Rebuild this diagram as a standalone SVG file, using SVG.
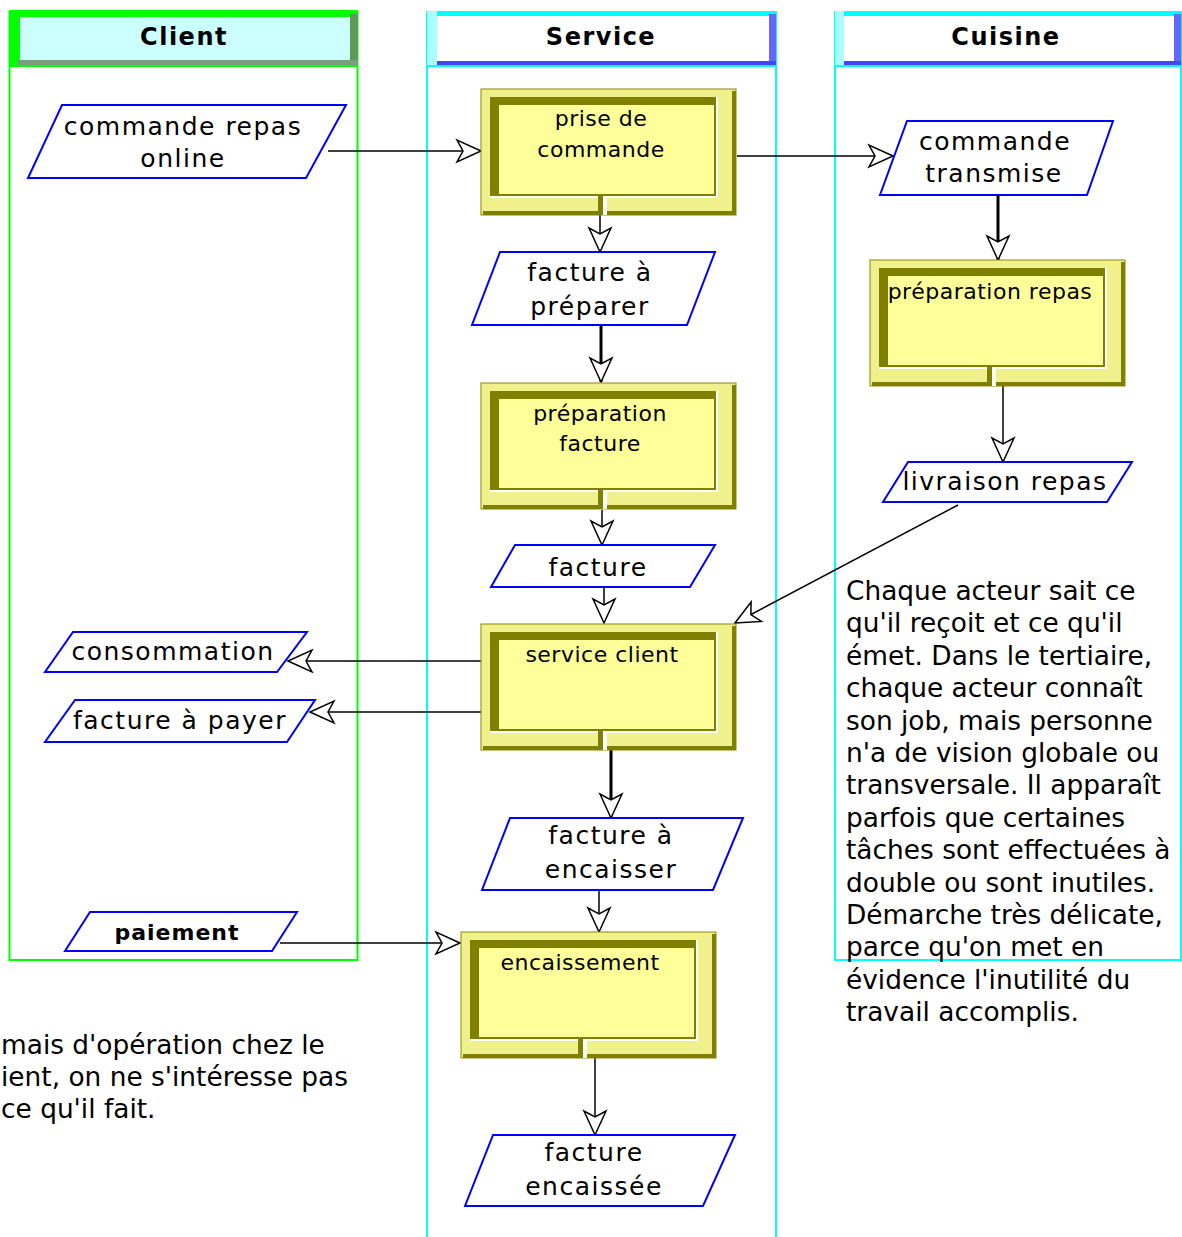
<svg xmlns="http://www.w3.org/2000/svg" width="1182" height="1237" viewBox="0 0 1182 1237">
<style>
.hdr{font-family:"DejaVu Sans",Verdana,sans-serif;font-weight:bold;font-size:24px;letter-spacing:1.5px;text-anchor:middle;fill:#000}
.pl{font-family:"DejaVu Sans",Verdana,sans-serif;font-size:25px;letter-spacing:1.5px;text-anchor:middle;fill:#000}
.pb{font-family:"DejaVu Sans",Verdana,sans-serif;font-size:22px;letter-spacing:0.5px;text-anchor:middle;fill:#000}
.para{fill:#fff;stroke:#0000ff;stroke-width:2}
.note{font-family:"DejaVu Sans",Verdana,sans-serif;font-size:26.4px;fill:#000}
.c{fill:none;stroke:#000;stroke-width:1.5;marker-end:url(#ah)}
.ct{fill:none;stroke:#000;stroke-width:3;marker-end:url(#ah)}
</style>
<defs>
<marker id="ah" markerUnits="userSpaceOnUse" markerWidth="28" markerHeight="28" viewBox="0 0 28 28" refX="26" refY="14" orient="auto">
<path d="M26,14 L2,3 L8,14 L2,25 Z" fill="#fff" stroke="#000" stroke-width="1.5"/>
</marker>
<g id="proc">
<rect x="0" y="0" width="255" height="126" fill="#f0f08c" stroke="#8a8a00" stroke-width="1"/>
<rect x="251" y="2" width="4" height="124" fill="#808000"/>
<rect x="2" y="122" width="253" height="4" fill="#808000"/>
<rect x="9" y="8" width="226" height="99" fill="#808000"/>
<rect x="235" y="8" width="2" height="101" fill="#fff"/>
<rect x="9" y="107" width="228" height="2" fill="#fff"/>
<rect x="18" y="16" width="215" height="89" fill="#ffff99"/>
<rect x="117" y="107" width="5" height="19" fill="#808000"/>
<rect x="122" y="107" width="4" height="19" fill="#fff"/>
</g>
</defs>
<rect width="1182" height="1237" fill="#fff"/>

<g id="lane-client">
<rect x="9.5" y="12" width="348" height="948" fill="none" stroke="#00ff00" stroke-width="2"/>
<rect x="10" y="12" width="347" height="54" fill="#ccffff"/>
<rect x="9" y="10" width="349" height="7" fill="#00ff00"/>
<rect x="9" y="10" width="11" height="56" fill="#00ff00"/>
<rect x="350" y="14" width="8" height="52" fill="#5a9a5a"/>
<rect x="18" y="60" width="340" height="5" fill="#7a9f7a"/>
<line x1="9" y1="66" x2="358" y2="66" stroke="#00ff00" stroke-width="2"/>
<text class="hdr" x="184" y="45">Client</text>
</g>

<g id="lane-service">
<rect x="427" y="12" width="349" height="1235" fill="none" stroke="#00ffff" stroke-width="2"/>
<rect x="427" y="11" width="349" height="5" fill="#00ffff"/>
<rect x="427" y="11" width="10" height="55" fill="#aaffff"/>
<rect x="769" y="14" width="7" height="50" fill="#6666ff"/>
<rect x="437" y="61" width="339" height="4" fill="#4444ff"/>
<line x1="427" y1="66" x2="776" y2="66" stroke="#00ffff" stroke-width="2"/>
<text class="hdr" x="601" y="45">Service</text>
</g>

<g id="lane-cuisine">
<rect x="835" y="12" width="346" height="948" fill="none" stroke="#00ffff" stroke-width="2"/>
<rect x="835" y="11" width="346" height="5" fill="#00ffff"/>
<rect x="835" y="11" width="9" height="55" fill="#aaffff"/>
<rect x="1174" y="14" width="7" height="50" fill="#6666ff"/>
<rect x="844" y="61" width="337" height="4" fill="#4444ff"/>
<line x1="835" y1="66" x2="1181" y2="66" stroke="#00ffff" stroke-width="2"/>
<text class="hdr" x="1006" y="45">Cuisine</text>
</g>

<g id="connectors">
<line class="c" x1="328" y1="151" x2="481" y2="151"/>
<line class="c" x1="737" y1="156" x2="893" y2="156"/>
<line class="c" x1="600" y1="215" x2="600" y2="252"/>
<line class="ct" x1="601" y1="325" x2="601" y2="382"/>
<line class="c" x1="602" y1="510" x2="602" y2="545"/>
<line class="c" x1="604" y1="587" x2="604" y2="623"/>
<line class="c" x1="958" y1="505" x2="735" y2="623"/>
<line class="c" x1="481" y1="661" x2="288" y2="661"/>
<line class="c" x1="481" y1="712" x2="310" y2="712"/>
<line class="ct" x1="611" y1="750" x2="611" y2="818"/>
<line class="c" x1="599" y1="890" x2="599" y2="932"/>
<line class="c" x1="280" y1="943" x2="460" y2="943"/>
<line class="c" x1="595" y1="1058" x2="595" y2="1135"/>
<line class="ct" x1="998" y1="195" x2="998" y2="260"/>
<line class="c" x1="1003" y1="386" x2="1003" y2="462"/>
</g>

<g id="n-commande-repas">
<polygon class="para" points="62,105 346,105 306,178 28,178"/>
<text class="pl" x="183" y="135">commande repas</text>
<text class="pl" x="183" y="167">online</text>
</g>
<g id="n-prise">
<use href="#proc" transform="translate(481,89)"/>
<text class="pb" x="601" y="126">prise de</text>
<text class="pb" x="601" y="157">commande</text>
</g>
<g id="n-commande-transmise">
<polygon class="para" points="907,121 1113,121 1087,195 880,195"/>
<text class="pl" x="995" y="150">commande</text>
<text class="pl" x="994" y="182">transmise</text>
</g>
<g id="n-facture-preparer">
<polygon class="para" points="500,252 715,252 687,325 472,325"/>
<text class="pl" x="590" y="281">facture à</text>
<text class="pl" x="590" y="315">préparer</text>
</g>
<g id="n-preparation-facture">
<use href="#proc" transform="translate(481,383)"/>
<text class="pb" x="600" y="421">préparation</text>
<text class="pb" x="600" y="451">facture</text>
</g>
<g id="n-facture">
<polygon class="para" points="515,545 715,545 690,587 491,587"/>
<text class="pl" x="598" y="576">facture</text>
</g>
<g id="n-service-client">
<use href="#proc" transform="translate(481,624)"/>
<text class="pb" x="602" y="662">service client</text>
</g>
<g id="n-consommation">
<polygon class="para" points="73,632 307,632 277,672 45,672"/>
<text class="pl" x="173" y="660">consommation</text>
</g>
<g id="n-facture-payer">
<polygon class="para" points="75,700 315,700 287,742 45,742"/>
<text class="pl" x="180" y="729">facture à payer</text>
</g>
<g id="n-facture-encaisser">
<polygon class="para" points="510,818 743,818 713,890 482,890"/>
<text class="pl" x="611" y="844">facture à</text>
<text class="pl" x="611" y="878">encaisser</text>
</g>
<g id="n-paiement">
<polygon class="para" points="90,912 297,912 272,951 65,951"/>
<text class="pl" x="177" y="940" style="font-weight:bold;font-size:22px;letter-spacing:1px">paiement</text>
</g>
<g id="n-encaissement">
<use href="#proc" transform="translate(461,932)"/>
<text class="pb" x="580" y="970">encaissement</text>
</g>
<g id="n-facture-encaissee">
<polygon class="para" points="493,1135 735,1135 703,1206 465,1206"/>
<text class="pl" x="594" y="1161">facture</text>
<text class="pl" x="594" y="1195">encaissée</text>
</g>
<g id="n-preparation-repas">
<use href="#proc" transform="translate(870,260)"/>
<text class="pb" x="990" y="299">préparation repas</text>
</g>
<g id="n-livraison">
<polygon class="para" points="908,462 1132,462 1107,502 883,502"/>
<text class="pl" x="1005" y="490">livraison repas</text>
</g>

<text class="note" x="846" y="600">
<tspan x="846">Chaque acteur sait ce</tspan>
<tspan x="846" dy="32.4">qu'il reçoit et ce qu'il</tspan>
<tspan x="846" dy="32.4">émet. Dans le tertiaire,</tspan>
<tspan x="846" dy="32.4">chaque acteur connaît</tspan>
<tspan x="846" dy="32.4">son job, mais personne</tspan>
<tspan x="846" dy="32.4">n'a de vision globale ou</tspan>
<tspan x="846" dy="32.4">transversale. Il apparaît</tspan>
<tspan x="846" dy="32.4">parfois que certaines</tspan>
<tspan x="846" dy="32.4">tâches sont effectuées à</tspan>
<tspan x="846" dy="32.4">double ou sont inutiles.</tspan>
<tspan x="846" dy="32.4">Démarche très délicate,</tspan>
<tspan x="846" dy="32.4">parce qu'on met en</tspan>
<tspan x="846" dy="32.4">évidence l'inutilité du</tspan>
<tspan x="846" dy="32.4">travail accomplis.</tspan>
</text>
<text class="note">
<tspan x="1" y="1054">mais d'opération chez le</tspan>
<tspan x="1" y="1086">ient, on ne s'intéresse pas</tspan>
<tspan x="1" y="1118">ce qu'il fait.</tspan>
</text>
</svg>
